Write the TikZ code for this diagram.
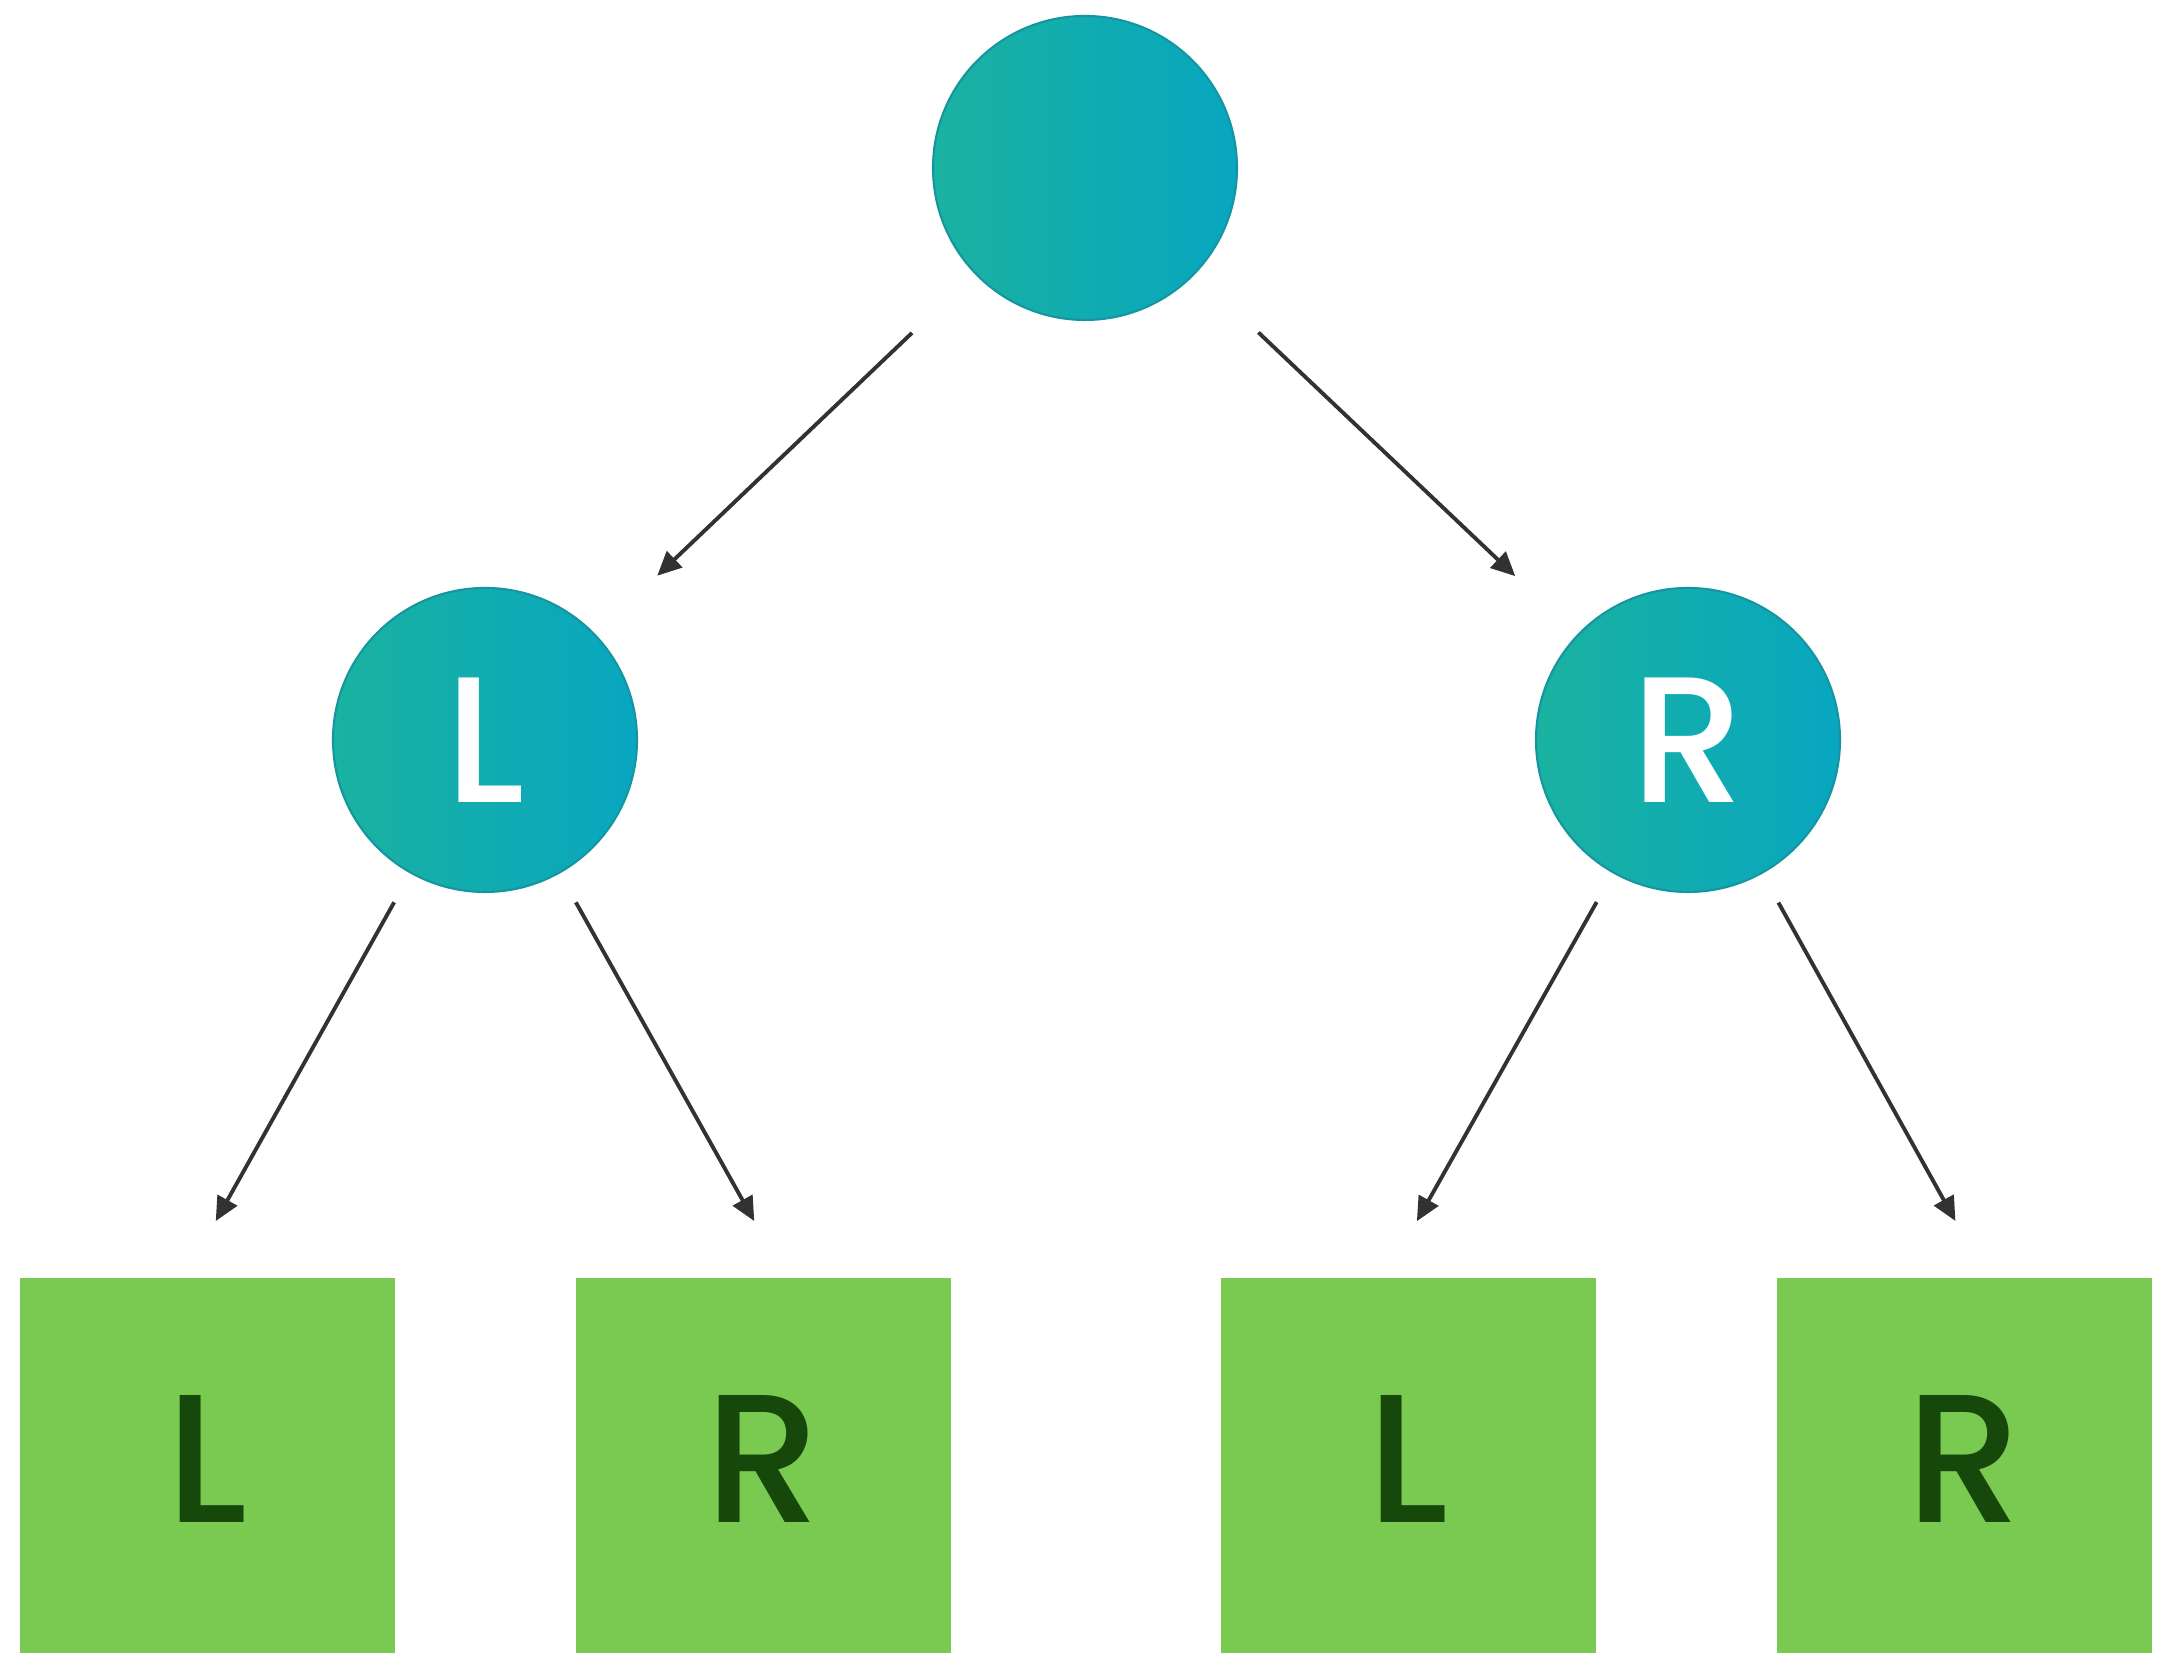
\documentclass[tikz,border=0pt]{standalone}
\usepackage{fontspec}
\setmainfont{Poppins}
\newfontfamily\lblfont{Poppins Medium}
\usepackage{tikz}
\usetikzlibrary{arrows.meta, positioning, calc}
\definecolor{TealA}{RGB}{26, 178, 160}
\definecolor{TealB}{RGB}{8, 166, 192}
\definecolor{TealEdge}{RGB}{20, 150, 160}
\definecolor{LeafGreen}{RGB}{122, 202, 82}
\definecolor{LeafText}{RGB}{22, 72, 12}
\definecolor{ArrGray}{RGB}{50, 50, 50}

\begin{document}
\begin{tikzpicture}[
  nd/.style={circle, shade, left color=TealA, right color=TealB,
             draw=TealEdge, line width=0.6pt, minimum size=3.04cm,
             inner sep=0pt, text=white,
             font=\lblfont\fontsize{51}{51}\selectfont},
  leaf/.style={rectangle, fill=LeafGreen, minimum size=3.75cm,
               inner sep=0pt, text=LeafText,
               font=\lblfont\fontsize{52}{52}\selectfont},
  eg/.style={-{Triangle[length=2.4mm, width=2.2mm]}, line width=1.1pt, color=ArrGray}
]
  \useasboundingbox (0,0) rectangle (21.61,16.61);
  \fill[white] (0,0) rectangle (21.61,16.61);

  \node[nd] (root) at (10.85,14.93) {};
  \node[nd] (L) at (4.85,9.21)  {\raisebox{-0.5mm}{L}};
  \node[nd] (R) at (16.88,9.21) {\raisebox{-0.5mm}{R}};

  \node[leaf] (LL) at (2.07,1.95)  {\raisebox{1.3mm}{L}};
  \node[leaf] (LR) at (7.63,1.95)  {\raisebox{1.3mm}{R}};
  \node[leaf] (RL) at (14.08,1.95) {\raisebox{1.3mm}{L}};
  \node[leaf] (RR) at (19.64,1.95) {\raisebox{1.3mm}{R}};

  \draw[eg, shorten <=0.86cm, shorten >=0.85cm] (root)--(L);
  \draw[eg, shorten <=0.86cm, shorten >=0.85cm] (root)--(R);
  \draw[eg, shorten <=0.33cm, shorten >=0.65cm] (L)--([xshift=-2.3mm]LL.north);
  \draw[eg, shorten <=0.33cm, shorten >=0.65cm] (L)--([xshift=2.3mm]LR.north);
  \draw[eg, shorten <=0.33cm, shorten >=0.65cm] (R)--([xshift=-2.3mm]RL.north);
  \draw[eg, shorten <=0.33cm, shorten >=0.65cm] (R)--([xshift=2.3mm]RR.north);
\end{tikzpicture}
\end{document}
